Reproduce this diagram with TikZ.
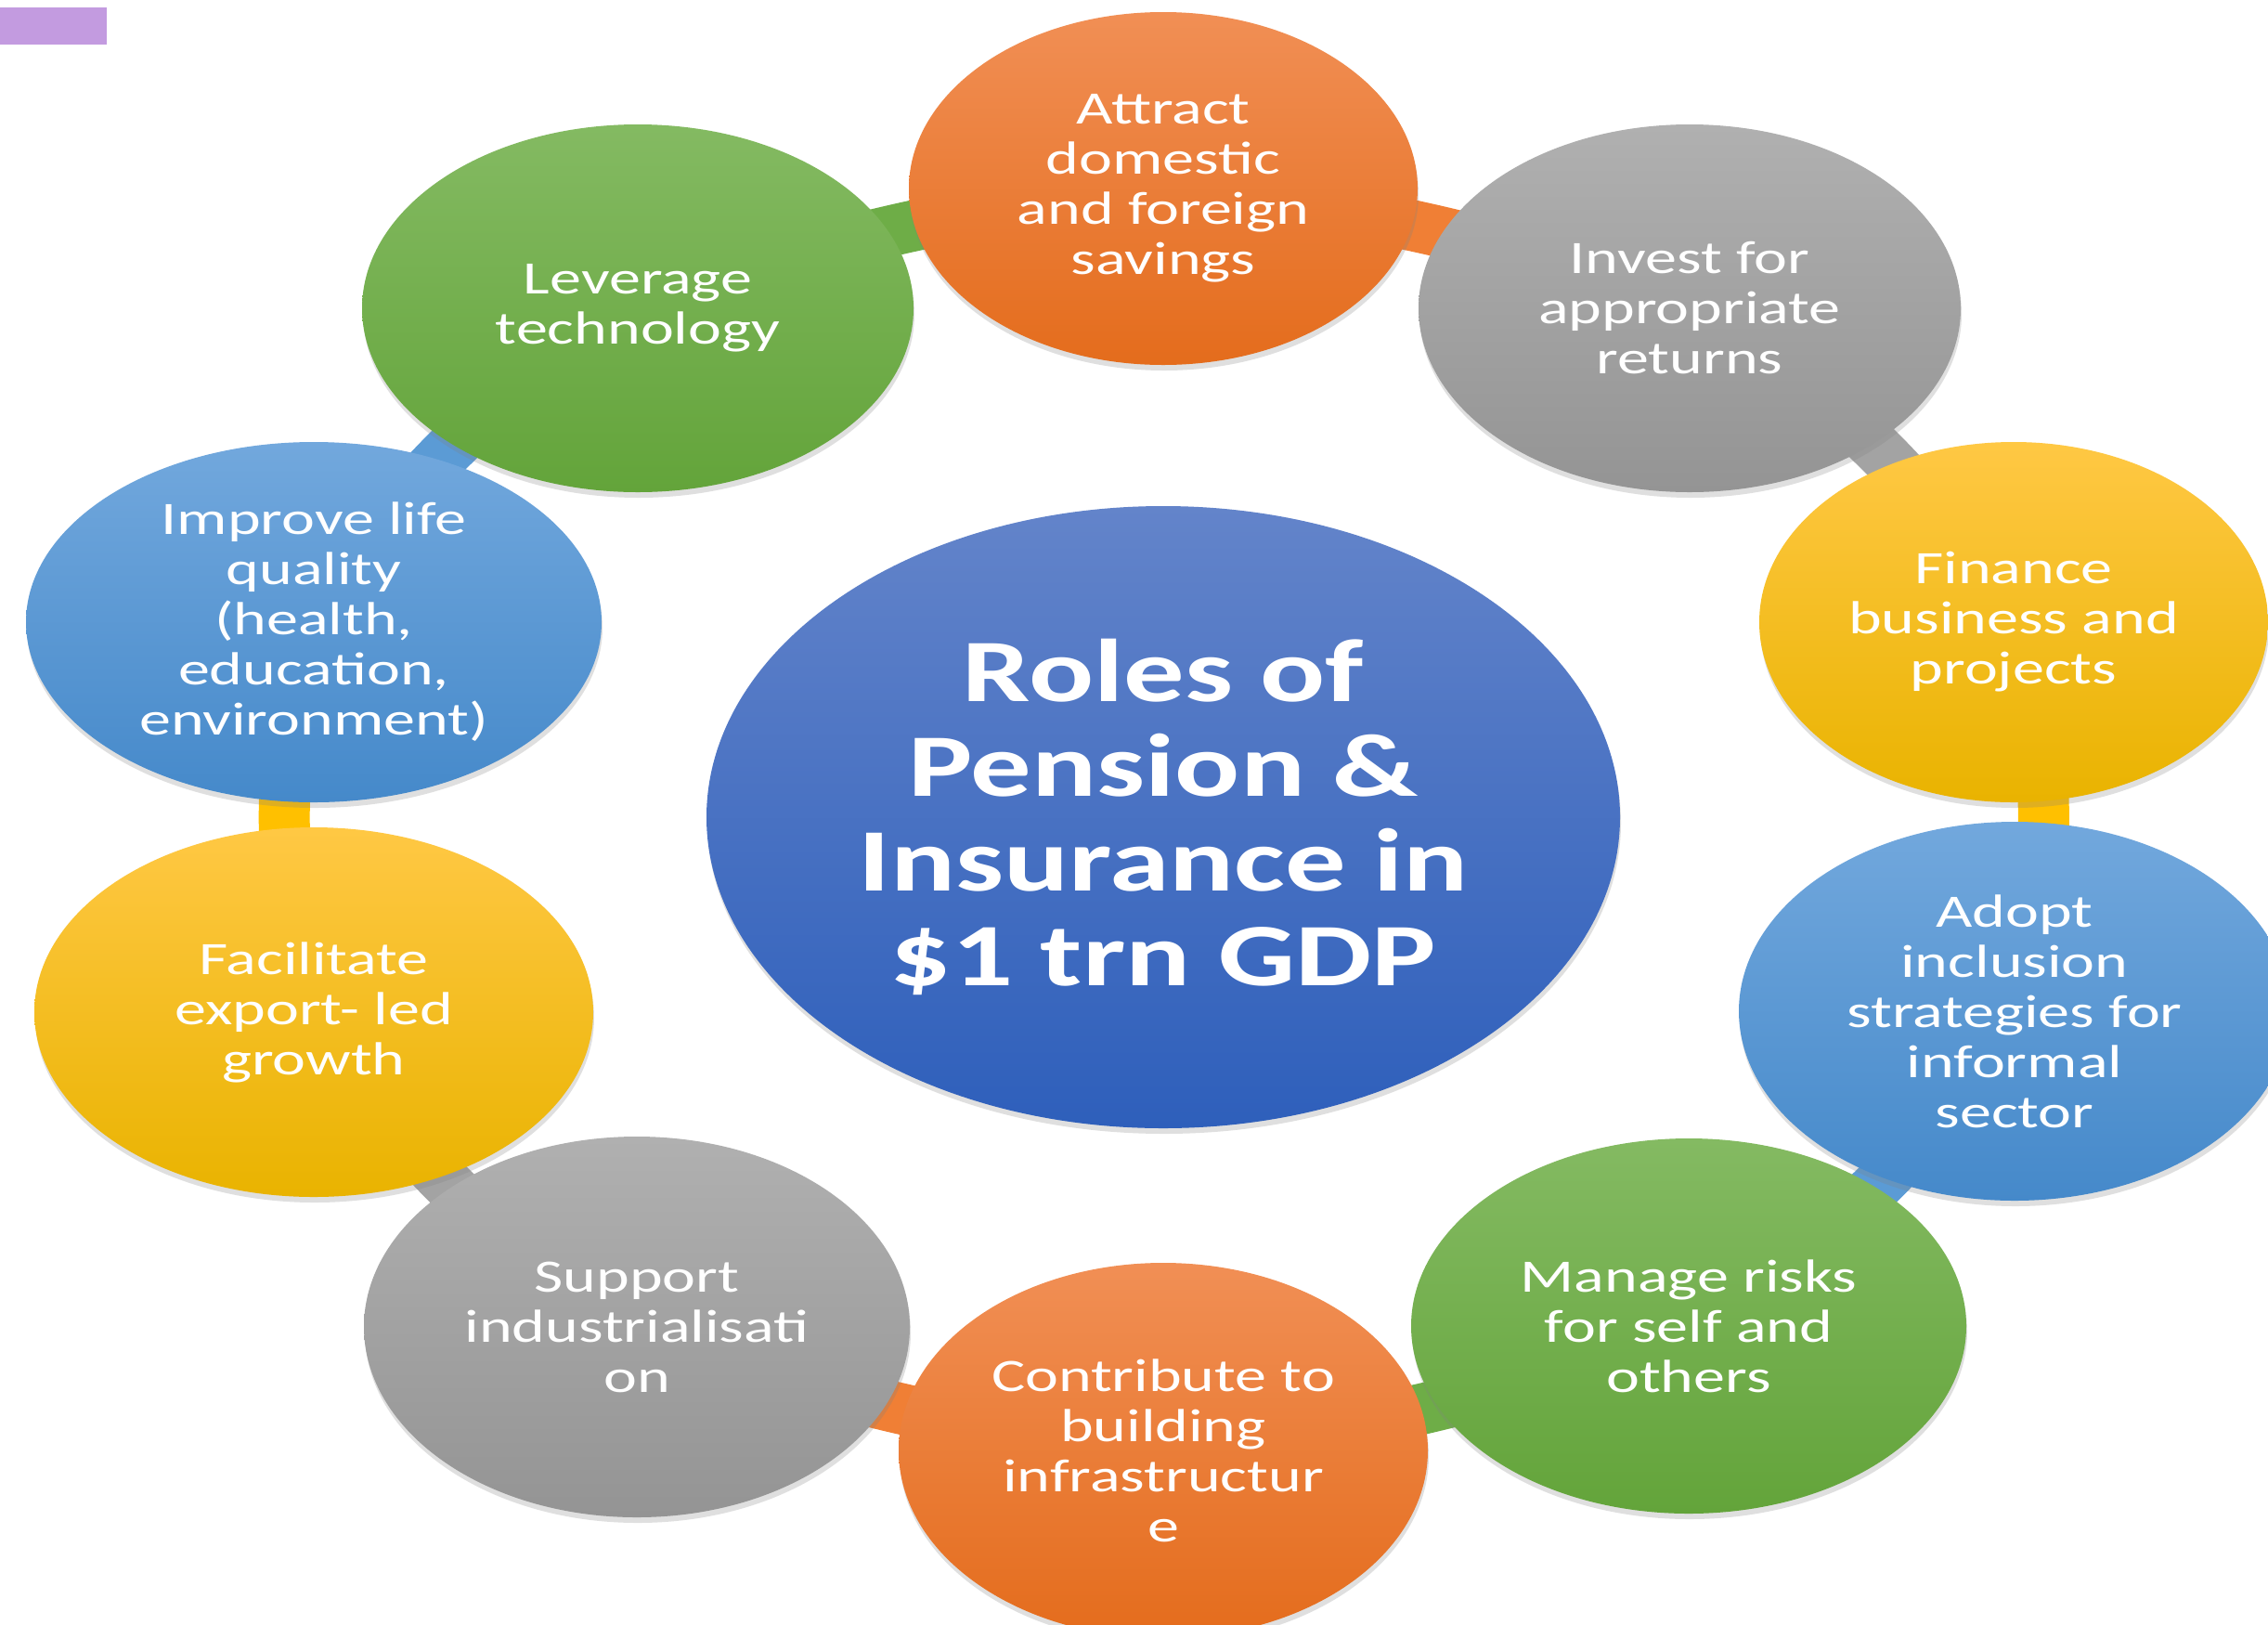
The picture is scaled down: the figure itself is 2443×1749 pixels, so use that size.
\documentclass[tikz,border=0pt]{standalone}
\usepackage{fontspec}
\setmainfont{Carlito}[FakeStretch=1.36]
\usepackage{xcolor}
\usetikzlibrary{shapes, shadows, backgrounds}
\pgfdeclarelayer{paper}
\pgfsetlayers{paper,background,main}

\definecolor{orangetop}{HTML}{F18F55}
\definecolor{orangebot}{HTML}{E46C1C}
\definecolor{graytop}{HTML}{B0B0B0}
\definecolor{graybot}{HTML}{949494}
\definecolor{yellowtop}{HTML}{FFC844}
\definecolor{yellowbot}{HTML}{E9B300}
\definecolor{bluetop}{HTML}{72A8DD}
\definecolor{bluebot}{HTML}{4589CA}
\definecolor{greentop}{HTML}{84BA62}
\definecolor{greenbot}{HTML}{63A43A}
\definecolor{rolestop}{HTML}{6384CA}
\definecolor{rolesbot}{HTML}{2E5FBB}
\definecolor{orangeline}{HTML}{F07F35}
\definecolor{grayline}{HTML}{A3A3A3}
\definecolor{yellowline}{HTML}{FFC000}
\definecolor{blueline}{HTML}{5B9BD5}
\definecolor{greenline}{HTML}{6EAD47}
\definecolor{tabpurple}{HTML}{C39BE0}

\begin{document}
\begin{tikzpicture}[x=1pt, y=-1pt,
  orangebub/.style={top color=orangetop, bottom color=orangebot},
  graybub/.style={top color=graytop, bottom color=graybot},
  yellowbub/.style={top color=yellowtop, bottom color=yellowbot},
  bluebub/.style={top color=bluetop, bottom color=bluebot},
  greenbub/.style={top color=greentop, bottom color=greenbot}]
\useasboundingbox (0,0) rectangle (2443,1749);
\begin{pgfonlayer}{paper}
  \fill[white] (0,0) rectangle (2443,1749);
\end{pgfonlayer}
\fill[tabpurple] (0,8) rectangle (115,48);

\begin{scope}[every node/.style={ellipse, inner sep=0pt, text=white, align=center,
    font=\fontsize{50}{54}\selectfont,
    drop shadow={shadow xshift=1pt, shadow yshift=-6pt, opacity=0.25}}]
  \node[top color=rolestop, bottom color=rolesbot, minimum width=984pt, minimum height=670pt,
    font=\bfseries\fontsize{96}{102}\selectfont] (roles) at (1253,880)
    {Roles of\\Pension \&\\Insurance in\\\$1 trn GDP};
  \node[orangebub, minimum width=548pt, minimum height=380pt] (attract) at (1253,203)
    {Attract\\domestic\\and foreign\\savings};
  \node[graybub, minimum width=584pt, minimum height=396pt] (invest) at (1820,332)
    {Invest for\\appropriate\\returns};
  \node[yellowbub, minimum width=548pt, minimum height=388pt] (finance) at (2169,670)
    {Finance\\business and\\projects};
  \node[bluebub, minimum width=594pt, minimum height=408pt] (adopt) at (2170,1089)
    {Adopt\\inclusion\\strategies for\\informal\\sector};
  \node[greenbub, minimum width=598pt, minimum height=404pt] (manage) at (1819,1428)
    {Manage risks\\for self and\\others};
  \node[orangebub, minimum width=570pt, minimum height=404pt] (contrib) at (1253,1562)
    {Contribute to\\building\\infrastructur\\e};
  \node[graybub, minimum width=588pt, minimum height=410pt] (support) at (686,1429)
    {Support\\industrialisati\\on};
  \node[yellowbub, minimum width=602pt, minimum height=398pt] (facil) at (338,1090)
    {Facilitate\\export- led\\growth};
  \node[bluebub, minimum width=620pt, minimum height=388pt] (improve) at (338,670)
    {Improve life\\quality\\(health,\\education,\\environment)};
  \node[greenbub, minimum width=594pt, minimum height=396pt] (leverage) at (687,332)
    {Leverage\\technology};
\end{scope}

\begin{pgfonlayer}{background}
\begin{scope}[every edge/.style={draw, line width=55pt}]
  \path (leverage.center) edge[bend left=7, draw=greenline] (attract.center);
  \path (attract.center) edge[bend left=7, draw=orangeline] (invest.center);
  \path (invest.center) edge[bend left=13, draw=grayline] (finance.center);
  \path (finance.center) edge[bend left=15, draw=yellowline] (adopt.center);
  \path (adopt.center) edge[bend left=13, draw=blueline] (manage.center);
  \path (manage.center) edge[bend left=7, draw=greenline] (contrib.center);
  \path (contrib.center) edge[bend left=7, draw=orangeline] (support.center);
  \path (support.center) edge[bend left=13, draw=grayline] (facil.center);
  \path (facil.center) edge[bend left=15, draw=yellowline] (improve.center);
  \path (improve.center) edge[bend left=13, draw=blueline] (leverage.center);
\end{scope}
\end{pgfonlayer}

\end{tikzpicture}
\end{document}
